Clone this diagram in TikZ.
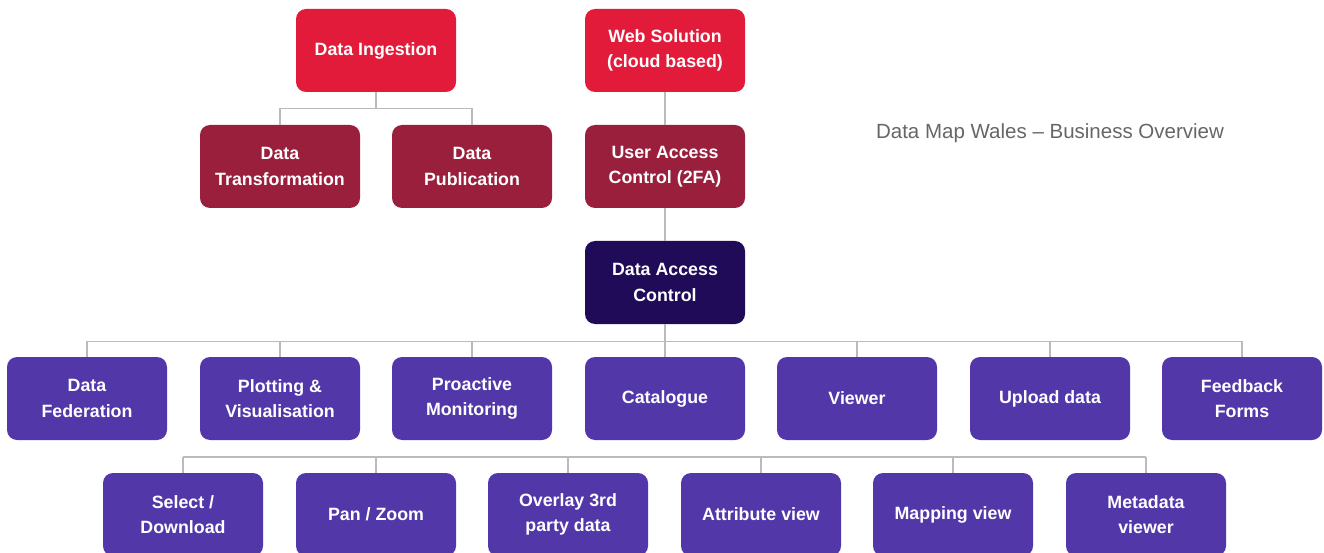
\documentclass[tikz,border=0pt]{standalone}
\usepackage{fontspec}
\setmainfont{Liberation Sans}
\definecolor{cred}{HTML}{E31B3B}
\definecolor{cdred}{HTML}{9A1F3C}
\definecolor{cnavy}{HTML}{200B58}
\definecolor{cpurple}{HTML}{5237A9}
\definecolor{cline}{HTML}{BBBBBB}
\definecolor{ctitle}{HTML}{666666}
\begin{document}
\begin{tikzpicture}[x=1pt,y=-1pt,
  box/.style={rounded corners=10pt, minimum width=160pt, minimum height=83pt,
    inner sep=0pt, align=center, text=white,
    font=\fontsize{17.8}{25.5}\selectfont\bfseries},
  redbox/.style={box, fill=cred},
  dredbox/.style={box, fill=cdred},
  navybox/.style={box, fill=cnavy},
  purbox/.style={box, fill=cpurple},
  conn/.style={draw=cline, line width=1.2pt}]
\useasboundingbox (0,0) rectangle (1324,553);
% top
\node[redbox] (ing) at (376,50.5) {Data Ingestion};
\node[redbox] (web) at (665,50.5) {Web Solution\\(cloud based)};
\node[dredbox] (tr) at (280,166.5) {Data\\Transformation};
\node[dredbox] (pub) at (472,166.5) {Data\\Publication};
\node[dredbox] (uac) at (665,166.5) {User Access\\Control (2FA)};
\node[navybox] (dac) at (665,282.5) {Data Access\\Control};
% row 3
\node[purbox] (fed) at (87,398.5) {Data\\Federation};
\node[purbox] (plot) at (280,398.5) {Plotting \&\\Visualisation};
\node[purbox] (pro) at (472,398.5) {Proactive\\Monitoring};
\node[purbox] (cat) at (665,398.5) {Catalogue};
\node[purbox] (view) at (857,398.5) {Viewer};
\node[purbox] (up) at (1050,398.5) {Upload data};
\node[purbox] (fb) at (1242,398.5) {Feedback\\Forms};
% row 4
\node[purbox] (sel) at (183,514.5) {Select /\\Download};
\node[purbox] (pan) at (376,514.5) {Pan / Zoom};
\node[purbox] (ovl) at (568,514.5) {Overlay 3rd\\party data};
\node[purbox] (att) at (761,514.5) {Attribute view};
\node[purbox] (map) at (953,514.5) {Mapping view};
\node[purbox] (meta) at (1146,514.5) {Metadata\\viewer};
% title
\node[text=ctitle, font=\fontsize{20.5}{24}\selectfont, anchor=center] (title) at (1050,133.5) {Data Map Wales -- Business Overview};
% connectors
\begin{scope}[on background layer/.try]
\draw[conn] (ing.south) -- ++(0,16) -| (tr.north);
\draw[conn] (ing.south) -- ++(0,16) -| (pub.north);
\draw[conn] (web) -- (uac);
\draw[conn] (uac) -- (dac);
\foreach \n in {fed,plot,pro,cat,view,up,fb}
  \draw[conn] (dac.south) -- ++(0,17) -| (\n.north);
\coordinate (busL) at (183,457);
\coordinate (busR) at (1146,457);
\draw[conn] (busL) -- (busR);
\foreach \n in {sel,pan,ovl,att,map,meta}
  \draw[conn] (\n.north) -- (\n.north |- busL);
\end{scope}
\end{tikzpicture}
\end{document}
